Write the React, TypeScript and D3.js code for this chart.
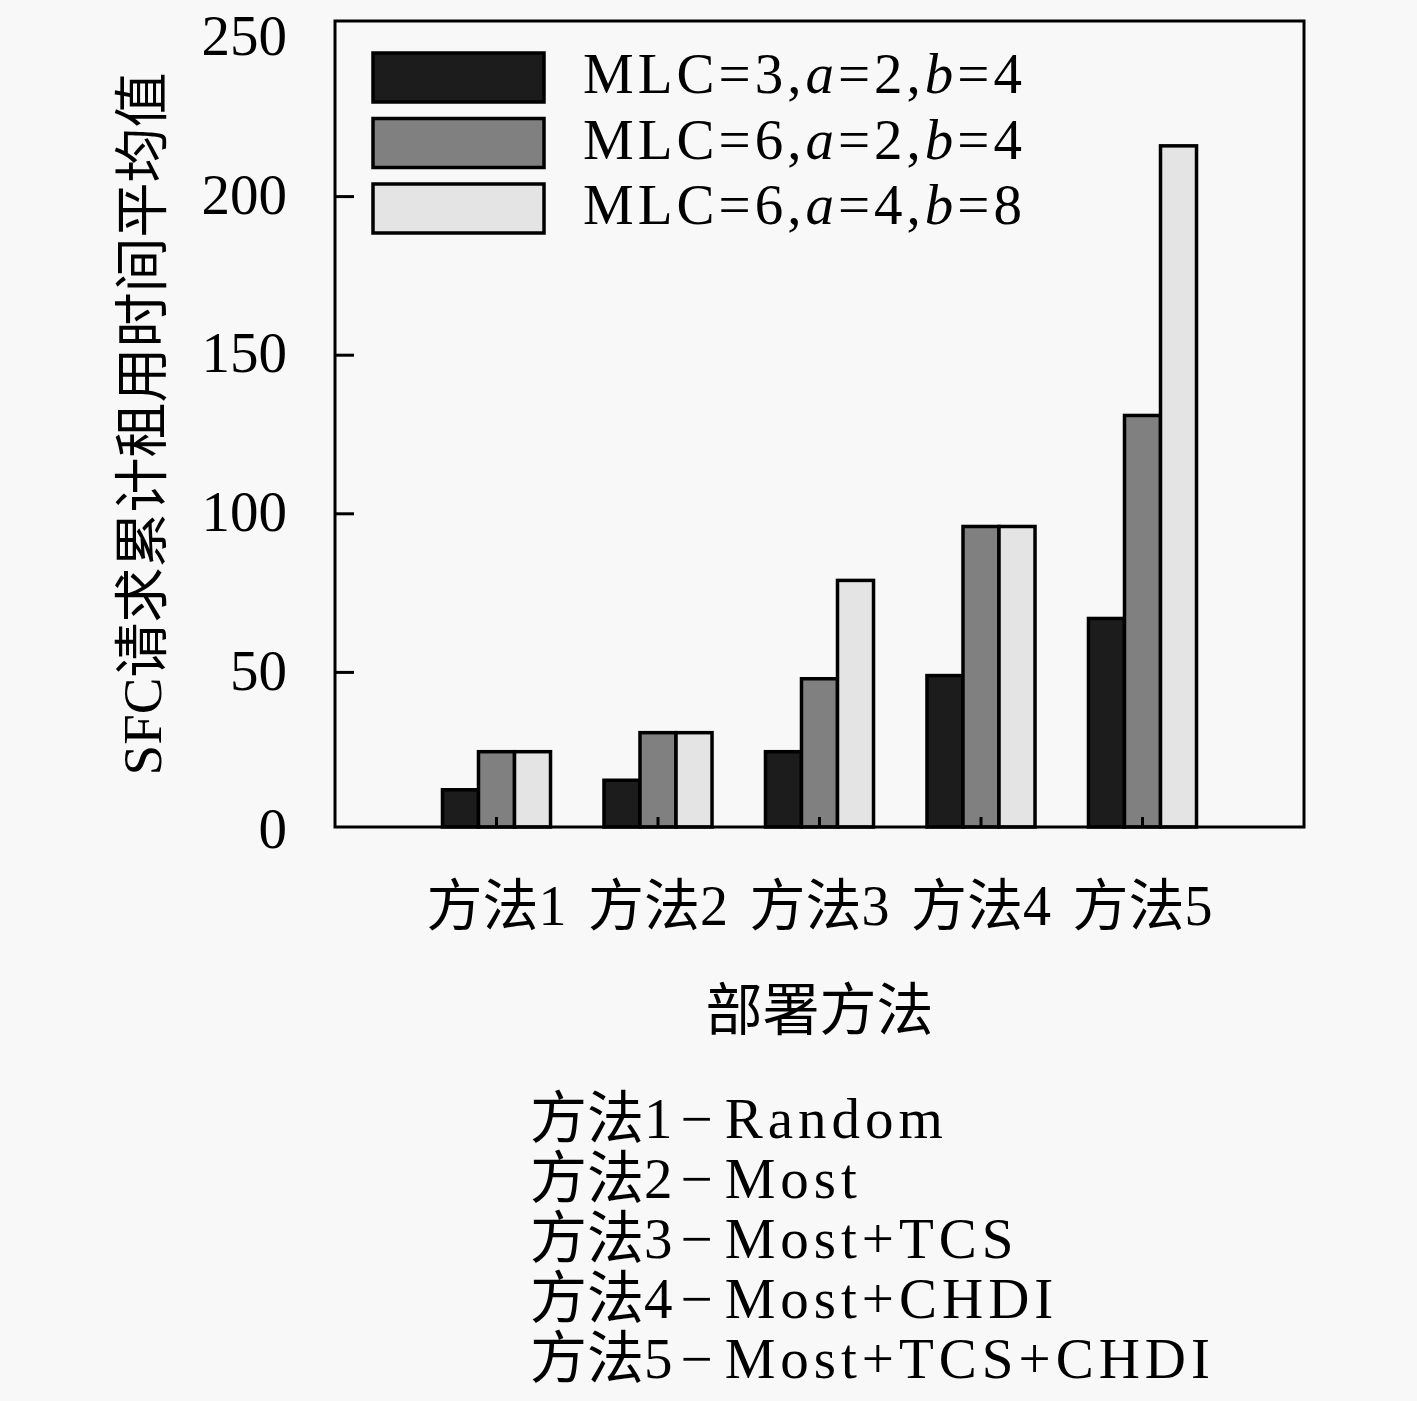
import React from "react";
import * as d3 from "d3";

// data
const categories = ["方法1", "方法2", "方法3", "方法4", "方法5"];
const mlc3a2b4 = [13, 16, 25, 49, 67];
const mlc6a2b4 = [25, 31, 48, 96, 131];
const mlc6a4b8 = [25, 31, 79, 96, 216];
const legendMlc = [3, 6, 6];
const legendA = [2, 2, 4];
const legendB = [4, 4, 8];
const yTicks = [0, 50, 100, 150, 200, 250];
const methodNotes = ["Random", "Most", "Most+TCS", "Most+CHDI", "Most+TCS+CHDI"];

const W = 1417;
const H = 1401;
const left = 335;
const right = 1304;
const top = 21;
const bottom = 827;

const bg = "#f8f8f8";
const fills = ["#1c1c1c", "#808080", "#e4e4e4"];
const font = "'Liberation Serif', 'Noto Sans CJK SC', serif";

const App: React.FC = () => {
  const series = [mlc3a2b4, mlc6a2b4, mlc6a4b8];

  const x = d3.scaleLinear().domain([0, categories.length + 1]).range([left, right]);
  const y = d3.scaleLinear().domain([0, 250]).range([831, 38]);
  const unit = x(1) - x(0);
  const inner = d3
    .scaleBand<number>()
    .domain(d3.range(series.length))
    .range([-0.3345 * unit, 0.3345 * unit])
    .padding(0);

  return (
    <svg
      width={W}
      height={H}
      style={{ position: "absolute", left: 0, top: 0, background: bg }}
      fontFamily={font}
    >
      <rect x={0} y={0} width={W} height={H} fill={bg} />

      {/* bars */}
      {series.map((vals, si) =>
        vals.map((v, ci) => (
          <rect
            key={`${si}-${ci}`}
            x={x(ci + 1) + inner(si)!}
            y={y(v)}
            width={inner.bandwidth()}
            height={bottom - y(v)}
            fill={fills[si]}
            stroke="#000"
            strokeWidth={3.5}
          />
        ))
      )}

      {/* x ticks */}
      {categories.map((c, i) => (
        <line key={c} x1={x(i + 1)} x2={x(i + 1)} y1={bottom} y2={bottom - 10} stroke="#000" strokeWidth={3} />
      ))}

      {/* y ticks */}
      {yTicks
        .filter((v) => v > 0 && v < 250)
        .map((v) => (
          <line key={v} x1={left} x2={left + 19} y1={y(v)} y2={y(v)} stroke="#000" strokeWidth={3} />
        ))}

      {/* frame */}
      <rect x={left} y={top} width={right - left} height={bottom - top} fill="none" stroke="#000" strokeWidth={3} />

      {/* y tick labels */}
      {yTicks.map((v) => (
        <text key={v} x={287} y={y(v)} dy="0.3em" textAnchor="end" fontSize={57} fill="#000">
          {v}
        </text>
      ))}

      {/* x labels */}
      {categories.map((c, i) => (
        <text key={c} x={x(i + 1)} y={925} textAnchor="middle" fontSize={56} fill="#000">
          {c}
        </text>
      ))}

      <text x={(left + right) / 2} y={1030} textAnchor="middle" fontSize={57} fill="#000">
        部署方法
      </text>

      <text
        transform={`translate(161, ${(top + bottom) / 2}) rotate(-90)`}
        textAnchor="middle"
        fontSize={55}
        fill="#000"
      >
        SFC请求累计租用时间平均值
      </text>

      {/* legend */}
      {legendMlc.map((m, i) => {
        const base = 93 + i * 65.5;
        return (
          <g key={i}>
            <rect x={373} y={base - 40} width={171} height={49} fill={fills[i]} stroke="#000" strokeWidth={3.5} />
            <text x={583} y={base} fontSize={57} fill="#000" letterSpacing={4}>
              <tspan>{`MLC=${m},`}</tspan>
              <tspan fontStyle="italic">a</tspan>
              <tspan>{`=${legendA[i]},`}</tspan>
              <tspan fontStyle="italic">b</tspan>
              <tspan>{`=${legendB[i]}`}</tspan>
            </text>
          </g>
        );
      })}

      {/* method notes */}
      {methodNotes.map((n, i) => (
        <text key={n} x={530} y={1138 + i * 60} fontSize={57} fill="#000">
          <tspan>{categories[i]}</tspan>
          <tspan dx={8}>−</tspan>
          <tspan dx={12} letterSpacing={5}>
            {n}
          </tspan>
        </text>
      ))}
    </svg>
  );
};

export default App;
